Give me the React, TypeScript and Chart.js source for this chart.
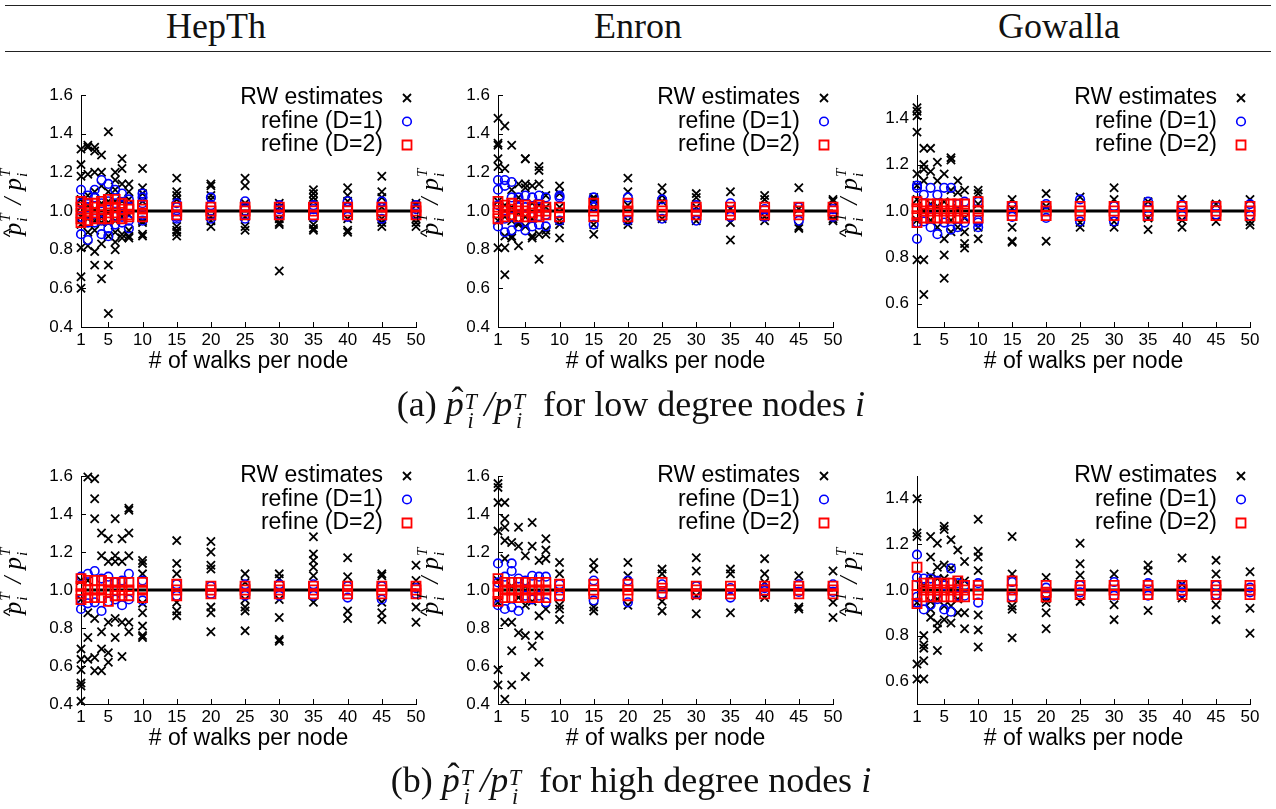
import React, { useEffect, useRef } from 'react';
import { Chart, registerables } from 'chart.js';

Chart.register(...registerables);

// ---------------- data ----------------
const walks = [1, 2, 3, 4, 5, 6, 7, 8, 10, 15, 20, 25, 30, 35, 40, 45, 50];
const xTickValues = [1, 5, 10, 15, 20, 25, 30, 35, 40, 45, 50];
const yTicksWide = [0.4, 0.6, 0.8, 1.0, 1.2, 1.4, 1.6];
const yTicksNarrow = [0.6, 0.8, 1.0, 1.2, 1.4];
const columnTitles = ['HepTh', 'Enron', 'Gowalla'];
const legendLabels = ['RW estimates', 'refine (D=1)', 'refine (D=2)'];
const xAxisTitle = '# of walks per node';
const referenceLevel = [1.0, 1.0];
const captionLow = 'for low degree nodes';
const captionHigh = 'for high degree nodes';

// (a) low degree nodes — HepTh
const hepthLowRW = [
  [1.32, 1.24, 1.18, 1.06, 1.02, 0.97, 0.93, 0.81, 0.66, 0.60],
  [1.34, 1.33, 1.19, 1.08, 1.03, 0.96, 0.89, 0.82],
  [1.33, 1.31, 1.20, 1.10, 1.01, 0.95, 0.90, 0.79, 0.72],
  [1.29, 1.20, 1.13, 1.04, 0.97, 0.94, 0.83, 0.65],
  [1.41, 1.10, 1.05, 0.99, 0.94, 0.87, 0.72, 0.47],
  [1.20, 1.16, 1.11, 1.05, 0.95, 0.89, 0.84, 0.80],
  [1.27, 1.22, 1.14, 1.05, 0.97, 0.88, 0.86],
  [1.14, 1.10, 1.06, 0.98, 0.90, 0.87, 0.86],
  [1.22, 1.12, 1.09, 1.05, 0.95, 0.94, 0.88, 0.87],
  [1.17, 1.10, 1.08, 1.06, 0.92, 0.90, 0.89, 0.87],
  [1.14, 1.13, 1.08, 1.06, 0.97, 0.95, 0.92],
  [1.17, 1.13, 1.04, 0.97, 0.92, 0.90],
  [1.04, 1.02, 0.96, 0.94, 0.93, 0.69],
  [1.11, 1.09, 1.07, 1.05, 0.93, 0.91, 0.90],
  [1.12, 1.08, 1.05, 0.96, 0.90, 0.89],
  [1.18, 1.10, 1.07, 1.02, 0.96, 0.94, 0.92],
  [1.04, 1.03, 0.96, 0.94, 0.92],
];
const hepthLowD1 = [
  [1.11, 1.04, 0.97, 0.88], [1.08, 1.02, 0.94, 0.85], [1.11, 1.07, 0.96, 0.94],
  [1.16, 1.04, 0.95, 0.88], [1.14, 1.05, 0.91, 0.87], [1.11, 1.04, 0.97, 0.93],
  [1.09, 1.03, 0.97, 0.94], [1.06, 1.02, 0.95, 0.91], [1.09, 1.07, 1.04, 0.98, 0.95],
  [1.04, 1.02, 0.97, 0.96], [1.07, 1.03, 0.98, 0.96], [1.05, 1.02, 0.98, 0.96],
  [1.03, 1.01, 0.98], [1.03, 1.01, 0.97], [1.05, 1.02, 0.97], [1.05, 1.02, 0.96],
  [1.03, 1.01, 0.98],
];
const hepthLowD2 = [
  [1.05, 1.02, 0.99, 0.96, 0.94], [1.04, 1.01, 0.98, 0.95], [1.04, 1.02, 0.99, 0.96],
  [1.05, 1.01, 0.98, 0.96], [1.06, 1.02, 0.99, 0.96], [1.06, 1.02, 0.99, 0.97],
  [1.04, 1.01, 0.98, 0.96], [1.03, 1.01, 0.98, 0.97], [1.03, 1.01, 0.99, 0.97],
  [1.02, 1.0, 0.98], [1.02, 1.0, 0.98], [1.02, 1.0, 0.98], [1.02, 1.0, 0.98],
  [1.02, 1.0, 0.98], [1.02, 1.0, 0.98], [1.02, 1.0, 0.98], [1.02, 1.0, 0.98],
];

// (a) low degree nodes — Enron
const enronLowRW = [
  [1.48, 1.35, 1.34, 1.27, 1.23, 1.05, 0.95, 0.81],
  [1.44, 1.22, 1.03, 0.97, 0.87, 0.81, 0.67],
  [1.34, 1.11, 1.02, 0.95, 0.87, 0.86],
  [1.14, 1.07, 0.99, 0.94, 0.93, 0.82],
  [1.27, 1.27, 1.14, 1.12, 0.97, 0.92],
  [1.13, 1.04, 0.96, 0.87, 0.86],
  [1.23, 1.21, 1.14, 1.03, 0.88, 0.75],
  [1.08, 1.02, 0.90, 0.88],
  [1.13, 1.09, 1.02, 0.95, 0.93, 0.86],
  [1.07, 1.06, 1.02, 0.93, 0.88],
  [1.17, 1.10, 1.03, 0.95, 0.93],
  [1.12, 1.08, 1.05, 0.96],
  [1.09, 1.07, 1.02, 0.95],
  [1.10, 1.01, 0.94, 0.85],
  [1.08, 1.06, 0.97, 0.95],
  [1.12, 1.01, 0.92, 0.91],
  [1.06, 1.05, 0.96, 0.95],
];
const enronLowD1 = [
  [1.16, 1.11, 1.03, 0.92], [1.16, 1.13, 0.96, 0.89], [1.15, 1.07, 0.97, 0.90],
  [1.07, 1.02, 0.92], [1.08, 1.02, 0.90], [1.07, 0.97, 0.92], [1.08, 1.02, 0.93],
  [1.07, 0.98, 0.92], [1.08, 1.07, 0.95], [1.07, 1.02, 0.93], [1.07, 0.95],
  [1.06, 0.96], [1.03, 0.95], [1.04, 0.97], [1.01, 0.97], [1.02, 0.95], [1.01, 0.97],
];
const enronLowD2 = [
  [1.05, 1.02, 0.99, 0.96], [1.03, 1.0, 0.97], [1.04, 1.01, 0.98], [1.03, 1.0, 0.97],
  [1.03, 1.0, 0.97], [1.02, 0.99, 0.97], [1.03, 1.0, 0.97], [1.02, 1.0, 0.98],
  [1.02, 0.99, 0.97], [1.04, 1.0, 0.97], [1.04, 1.0, 0.97], [1.03, 1.0, 0.98],
  [1.02, 1.0, 0.98], [1.02, 1.0, 0.98], [1.02, 1.0, 0.98], [1.02, 1.0, 0.98],
  [1.02, 1.0, 0.98],
];

// (a) low degree nodes — Gowalla
const gowallaLowRW = [
  [1.445, 1.43, 1.41, 1.34, 1.16, 1.11, 1.05, 0.96, 0.79],
  [1.27, 1.20, 1.18, 1.13, 1.0, 0.79, 0.64],
  [1.27, 1.17, 1.03, 0.96],
  [1.21, 1.13, 1.02, 0.93],
  [1.16, 1.04, 0.88, 0.81, 0.71],
  [1.23, 1.22, 1.09, 0.96, 0.91],
  [1.13, 1.08, 1.01, 0.93],
  [1.09, 0.97, 0.91, 0.86, 0.84],
  [1.09, 1.075, 1.03, 0.93, 0.88],
  [1.05, 1.01, 0.93, 0.87, 0.865],
  [1.075, 1.02, 0.87],
  [1.06, 0.95, 0.93],
  [1.10, 1.05, 0.955, 0.93],
  [1.04, 0.97, 0.92],
  [1.05, 0.96, 0.93],
  [1.03, 0.955],
  [1.05, 0.955, 0.94],
];
const gowallaLowD1 = [
  [1.11, 1.10, 0.95, 0.88], [1.07, 0.955], [1.10, 1.01, 0.93], [1.07, 0.90],
  [1.10, 0.95], [1.10, 0.92], [1.03, 0.93], [1.04, 0.95], [1.04, 0.96, 0.95, 0.93],
  [1.02, 0.975], [1.03, 0.97], [1.05, 0.955], [1.02, 0.955], [1.04, 0.98],
  [1.025, 0.98], [1.02, 0.985], [1.03, 0.98],
];
const gowallaLowD2 = [
  [1.04, 1.01, 0.98, 0.95], [1.03, 1.0, 0.97], [1.03, 1.0, 0.97], [1.03, 1.0, 0.97],
  [1.03, 1.0, 0.97], [1.03, 1.0, 0.97], [1.03, 1.0, 0.97], [1.03, 1.0, 0.97],
  [1.04, 1.0, 0.97], [1.02, 1.0, 0.98], [1.02, 1.0, 0.98], [1.02, 1.0, 0.98],
  [1.02, 1.0, 0.98], [1.02, 1.0, 0.98], [1.02, 1.0, 0.98], [1.02, 1.0, 0.98],
  [1.02, 1.0, 0.98],
];

// (b) high degree nodes — HepTh
const hepthHighRW = [
  [1.05, 0.95, 0.69, 0.635, 0.58, 0.51, 0.495, 0.415],
  [1.595, 1.05, 0.88, 0.75, 0.635],
  [1.585, 1.48, 1.375, 0.85, 0.645, 0.575],
  [1.30, 1.18, 0.78, 0.69, 0.575],
  [1.27, 1.15, 0.83, 0.67, 0.62],
  [1.375, 1.18, 1.15, 0.85, 0.75],
  [1.27, 1.15, 0.83, 0.65],
  [1.43, 1.42, 1.30, 1.18, 0.83, 0.78],
  [1.155, 1.14, 1.085, 0.93, 0.88, 0.81, 0.76, 0.75],
  [1.26, 1.14, 1.085, 0.935, 0.89, 0.865],
  [1.255, 1.20, 1.13, 1.11, 0.91, 0.88, 0.78],
  [1.085, 1.04, 0.95, 0.91, 0.89, 0.785],
  [1.085, 1.06, 0.95, 0.855, 0.74, 0.73],
  [1.28, 1.19, 1.155, 1.12, 1.075, 0.935],
  [1.17, 1.07, 0.89, 0.85],
  [1.085, 1.075, 0.935, 0.88, 0.845],
  [1.13, 1.05, 0.91, 0.83],
];
const hepthHighD1 = [
  [1.07, 0.95, 0.90], [1.085, 0.93], [1.10, 0.935], [1.06, 0.89], [1.07, 0.94],
  [1.04, 0.95], [1.05, 0.92], [1.085, 0.95], [1.05, 0.945], [1.03, 0.97],
  [1.02, 0.98], [1.03, 0.97], [1.03, 0.97], [1.03, 0.97], [1.02, 0.96],
  [1.02, 0.95], [1.01, 0.98],
];
const hepthHighD2 = [
  [1.06, 1.02, 0.98, 0.95], [1.05, 1.0, 0.96], [1.05, 1.0, 0.96], [1.05, 1.0, 0.96],
  [1.04, 1.0, 0.94], [1.04, 1.0, 0.97], [1.04, 1.0, 0.97], [1.04, 1.0, 0.97],
  [1.04, 1.0, 0.96], [1.03, 1.0, 0.97], [1.02, 1.0, 0.98], [1.02, 1.0, 0.98],
  [1.02, 1.0, 0.98], [1.02, 1.0, 0.98], [1.02, 1.0, 0.98], [1.02, 1.0, 0.98],
  [1.02, 1.0, 0.98],
];

// (b) high degree nodes — Enron
const enronHighRW = [
  [1.56, 1.54, 1.46, 1.31, 1.05, 0.935, 0.58, 0.50],
  [1.46, 1.375, 1.33, 1.26, 1.165, 0.83, 0.425],
  [1.25, 1.02, 0.83, 0.68, 0.50],
  [1.33, 1.23, 0.96, 0.775],
  [1.18, 1.02, 0.92, 0.76, 0.545],
  [1.355, 1.23, 0.94, 0.705],
  [1.155, 0.865, 0.76, 0.62],
  [1.27, 1.21, 1.165, 0.90],
  [1.145, 1.085, 0.92, 0.90, 0.845],
  [1.145, 1.11, 0.91, 0.89],
  [1.145, 1.075, 0.92],
  [1.11, 1.085, 0.94, 0.89],
  [1.17, 1.10, 0.97, 0.875],
  [1.11, 1.085, 0.88],
  [1.165, 1.085, 1.04, 0.96],
  [1.075, 0.91, 0.90],
  [1.10, 0.935, 0.855],
];
const enronHighD1 = [
  [1.14, 1.04, 0.92], [1.07, 0.90], [1.14, 1.10, 0.91], [1.06, 0.89], [1.05, 0.97],
  [1.075, 0.95], [1.07, 0.97], [1.07, 0.935], [1.03, 0.97], [1.05, 0.945],
  [1.05, 0.935], [1.03, 0.98], [1.02, 0.98], [1.01, 0.96], [1.01, 0.995],
  [1.03, 0.99], [1.03, 0.99],
];
const enronHighD2 = [
  [1.06, 1.02, 0.98, 0.94], [1.04, 1.0, 0.96], [1.04, 1.0, 0.96], [1.04, 1.0, 0.96],
  [1.04, 1.0, 0.96], [1.04, 1.0, 0.96], [1.04, 1.0, 0.96], [1.04, 1.0, 0.96],
  [1.03, 1.0, 0.97], [1.03, 1.0, 0.98], [1.03, 1.0, 0.97], [1.04, 1.01, 0.98],
  [1.02, 1.0, 0.98], [1.02, 1.0, 0.98], [1.02, 1.0, 0.98], [1.02, 1.0, 0.98],
  [1.02, 1.0, 0.98],
];

// (b) high degree nodes — Gowalla
const gowallaHighRW = [
  [1.40, 1.25, 1.235, 0.945, 0.675, 0.61],
  [1.02, 0.80, 0.76, 0.745, 0.69, 0.61],
  [1.235, 1.145, 1.06, 0.95, 0.915, 0.88],
  [1.205, 1.10, 1.05, 0.96, 0.855, 0.83, 0.735],
  [1.28, 1.265, 1.11, 1.05, 0.93, 0.87],
  [1.22, 1.095, 1.0, 0.93, 0.855],
  [1.175, 1.035, 0.96, 0.90],
  [1.125, 1.04, 0.90, 0.83],
  [1.31, 1.17, 1.145, 1.085, 0.89, 0.825, 0.75],
  [1.235, 1.07, 0.93, 0.915, 0.79],
  [1.055, 0.96, 0.945, 0.90, 0.83],
  [1.205, 1.115, 1.065, 0.95],
  [1.07, 0.935, 0.87],
  [1.11, 1.085, 0.91],
  [1.14, 1.025, 0.965],
  [1.13, 1.07, 0.935, 0.87],
  [1.08, 0.92, 0.81],
];
const gowallaHighD1 = [
  [1.155, 1.055, 0.97, 0.945], [1.05, 0.915], [1.05, 0.935], [1.04, 0.96],
  [1.02, 0.915], [1.095, 0.905], [1.03, 0.975], [1.02, 0.975], [1.03, 0.945],
  [1.035, 0.97], [1.01, 0.98], [1.02, 0.99], [1.035, 0.975], [1.03, 0.975],
  [1.01, 0.99], [1.02, 0.98], [1.01, 0.99],
];
const gowallaHighD2 = [
  [1.10, 1.02, 0.98, 0.94], [1.03, 1.0, 0.97], [1.03, 1.0, 0.97], [1.03, 1.0, 0.97],
  [1.03, 1.0, 0.97], [1.03, 1.0, 0.97], [1.04, 1.0, 0.97], [1.02, 1.0, 0.97],
  [1.02, 1.0, 0.98], [1.04, 1.0, 0.97], [1.02, 0.99, 0.97], [1.02, 1.0, 0.98],
  [1.02, 1.0, 0.98], [1.02, 1.0, 0.98], [1.02, 1.0, 0.98], [1.02, 1.0, 0.98],
  [1.02, 1.0, 0.98],
];

// ---------------- layout ----------------
const SANS = '"Liberation Sans", Arial, Helvetica, sans-serif';
const SERIF = '"Liberation Serif", "Times New Roman", serif';
const colGeom = [
  { left: 81, right: 416 },
  { left: 498, right: 833 },
  { left: 917, right: 1250 },
];
const rowGeom = [
  { top: 95, bottom: 327, legendDy: 3 },
  { top: 476, bottom: 704, legendDy: 0 },
];
const Y_AXIS_W = 81;
const X_AXIS_H = 58;
const PAD_TOP = 35;

type Panel = { rw: number[][]; d1: number[][]; d2: number[][]; narrow: boolean };
const panels: Panel[][] = [
  [
    { rw: hepthLowRW, d1: hepthLowD1, d2: hepthLowD2, narrow: false },
    { rw: enronLowRW, d1: enronLowD1, d2: enronLowD2, narrow: false },
    { rw: gowallaLowRW, d1: gowallaLowD1, d2: gowallaLowD2, narrow: true },
  ],
  [
    { rw: hepthHighRW, d1: hepthHighD1, d2: hepthHighD2, narrow: false },
    { rw: enronHighRW, d1: enronHighD1, d2: enronHighD2, narrow: false },
    { rw: gowallaHighRW, d1: gowallaHighD1, d2: gowallaHighD2, narrow: true },
  ],
];

function toPoints(cols: number[][]) {
  const pts: { x: number; y: number }[] = [];
  cols.forEach((vals, i) => vals.forEach((v) => pts.push({ x: walks[i], y: v })));
  return pts;
}

function drawMarker(ctx: CanvasRenderingContext2D, kind: number, x: number, y: number) {
  ctx.save();
  ctx.beginPath();
  if (kind === 0) {
    ctx.strokeStyle = '#000';
    ctx.lineWidth = 1.8;
    ctx.moveTo(x - 4, y - 4);
    ctx.lineTo(x + 4, y + 4);
    ctx.moveTo(x + 4, y - 4);
    ctx.lineTo(x - 4, y + 4);
  } else if (kind === 1) {
    ctx.strokeStyle = '#0000ff';
    ctx.lineWidth = 1.6;
    ctx.arc(x, y, 4.3, 0, Math.PI * 2);
  } else {
    ctx.strokeStyle = '#ff0000';
    ctx.lineWidth = 1.8;
    ctx.rect(x - 4.5, y - 4.5, 9, 9);
  }
  ctx.stroke();
  ctx.restore();
}

function drawYTitle(ctx: CanvasRenderingContext2D, cx: number, cy: number) {
  ctx.save();
  ctx.translate(cx, cy);
  ctx.rotate(-Math.PI / 2);
  ctx.fillStyle = '#000';
  ctx.textAlign = 'left';
  ctx.textBaseline = 'alphabetic';
  const big = `italic 25px ${SERIF}`;
  const small = `italic 15px ${SERIF}`;
  ctx.font = big;
  const wp = ctx.measureText('p').width;
  const ws = ctx.measureText('/').width;
  ctx.font = small;
  const ww = Math.max(ctx.measureText('T').width, ctx.measureText('i').width) + 3;
  const gap = 7;
  const total = wp + ww + gap + ws + gap + wp + ww;
  let x = -total / 2;
  ctx.font = `19px ${SANS}`;
  ctx.fillText('^', x - 2, -5);
  ctx.font = big;
  ctx.fillText('p', x, 0);
  x += wp;
  ctx.font = small;
  ctx.fillText('T', x + 1, -11);
  ctx.fillText('i', x + 1, 6);
  x += ww + gap;
  ctx.font = big;
  ctx.fillText('/', x, 0);
  x += ws + gap;
  ctx.fillText('p', x, 0);
  x += wp;
  ctx.font = small;
  ctx.fillText('T', x + 1, -11);
  ctx.fillText('i', x + 1, 6);
  ctx.restore();
}

function PanelChart({ row, col }: { row: number; col: number }) {
  const ref = useRef<HTMLCanvasElement | null>(null);
  const g = colGeom[col];
  const r = rowGeom[row];
  const p = panels[row][col];
  const cLeft = g.left - Y_AXIS_W;
  const cRight = Math.min(g.right + 30, 1276);
  const cTop = r.top - PAD_TOP;
  const cBottom = r.bottom + X_AXIS_H;
  const w = cRight - cLeft;
  const h = cBottom - cTop;
  const yTicks = p.narrow ? yTicksNarrow : yTicksWide;
  const yMin = p.narrow ? 0.5 : 0.4;
  const yMax = p.narrow ? 1.5 : 1.6;

  useEffect(() => {
    if (!ref.current) return;
    const decor = {
      id: 'decor',
      beforeDatasetsDraw(chart: any) {
        const { ctx, chartArea: a } = chart;
        const xs = chart.scales.x;
        const ys = chart.scales.y;
        ctx.save();
        ctx.strokeStyle = '#000';
        ctx.lineWidth = 1;
        ctx.beginPath();
        xTickValues.forEach((t) => {
          const px = Math.round(xs.getPixelForValue(t)) + 0.5;
          ctx.moveTo(px, a.bottom);
          ctx.lineTo(px, a.bottom - 5);
        });
        yTicks.forEach((t) => {
          const py = Math.round(ys.getPixelForValue(t)) + 0.5;
          ctx.moveTo(a.left, py);
          ctx.lineTo(a.left + 5, py);
        });
        ctx.stroke();
        ctx.restore();
      },
      afterDraw(chart: any) {
        const { ctx, chartArea: a } = chart;
        ctx.save();
        ctx.font = `23px ${SANS}`;
        ctx.fillStyle = '#000';
        ctx.textAlign = 'right';
        ctx.textBaseline = 'middle';
        legendLabels.forEach((lab, i) => {
          const y = a.top + r.legendDy + i * 23.5;
          ctx.fillText(lab, a.right - 33, y);
          drawMarker(ctx, i, a.right - 9, y);
        });
        ctx.restore();
        drawYTitle(ctx, 21, (a.top + a.bottom) / 2 - 10);
      },
    };
    const chart = new Chart(ref.current, {
      type: 'scatter',
      data: {
        datasets: [
          {
            label: legendLabels[2],
            data: toPoints(p.d2),
            pointStyle: 'rect',
            pointRadius: 6.4,
            borderColor: '#ff0000',
            backgroundColor: 'rgba(0,0,0,0)',
            borderWidth: 1.8,
            order: 0,
            clip: false,
          },
          {
            label: legendLabels[1],
            data: toPoints(p.d1),
            pointStyle: 'circle',
            pointRadius: 4.3,
            borderColor: '#0000ff',
            backgroundColor: 'rgba(0,0,0,0)',
            borderWidth: 1.6,
            order: 1,
            clip: false,
          },
          {
            label: legendLabels[0],
            data: toPoints(p.rw),
            pointStyle: 'crossRot',
            pointRadius: 5.8,
            borderColor: '#000',
            backgroundColor: '#000',
            borderWidth: 1.8,
            order: 2,
            clip: false,
          },
          {
            label: 'reference',
            data: [
              { x: walks[0], y: referenceLevel[0] },
              { x: walks[walks.length - 1], y: referenceLevel[1] },
            ],
            showLine: true,
            pointRadius: 0,
            borderColor: '#000',
            borderWidth: 3,
            order: 3,
          },
        ],
      } as any,
      options: {
        responsive: false,
        animation: false,
        events: [],
        layout: { padding: { top: PAD_TOP, right: cRight - g.right, left: 0, bottom: 0 } },
        plugins: { legend: { display: false }, tooltip: { enabled: false } },
        scales: {
          x: {
            type: 'linear',
            min: 1,
            max: 50,
            afterBuildTicks: (s: any) => {
              s.ticks = xTickValues.map((v) => ({ value: v }));
            },
            afterFit: (s: any) => {
              s.height = X_AXIS_H;
            },
            grid: { display: false, drawTicks: false },
            border: { display: true, color: '#000', width: 1 },
            ticks: {
              color: '#000',
              font: { family: SANS, size: 17 },
              padding: 3,
              maxRotation: 0,
              autoSkip: false,
            },
            title: {
              display: true,
              text: xAxisTitle,
              color: '#000',
              font: { family: SANS, size: 23 },
              padding: { top: 0, bottom: 10 },
            },
          },
          y: {
            type: 'linear',
            min: yMin,
            max: yMax,
            afterBuildTicks: (s: any) => {
              s.ticks = yTicks.map((v) => ({ value: v }));
            },
            afterFit: (s: any) => {
              s.width = Y_AXIS_W;
            },
            grid: { display: false, drawTicks: false },
            border: { display: true, color: '#000', width: 1 },
            ticks: {
              color: '#000',
              font: { family: SANS, size: 17 },
              padding: 8,
              callback: (v: any) => Number(v).toFixed(1),
            },
          },
        },
      } as any,
      plugins: [decor],
    });
    return () => chart.destroy();
  }, []);

  return (
    <canvas
      ref={ref}
      width={w}
      height={h}
      style={{ position: 'absolute', left: cLeft, top: cTop, width: w, height: h }}
    />
  );
}

function Scripts() {
  return (
    <span
      style={{
        display: 'inline-flex',
        flexDirection: 'column',
        fontSize: '0.62em',
        lineHeight: 0.82,
        verticalAlign: '0.3em',
        fontStyle: 'italic',
        marginLeft: '0.03em',
      }}
    >
      <span>T</span>
      <span>i</span>
    </span>
  );
}

function Caption({ tag, text, top }: { tag: string; text: string; top: number }) {
  return (
    <div
      style={{
        position: 'absolute',
        left: 0,
        width: 1262,
        top,
        textAlign: 'center',
        fontFamily: SERIF,
        fontSize: 36,
        lineHeight: '36px',
        whiteSpace: 'nowrap',
        color: '#111',
      }}
    >
      <span>({tag})&nbsp;</span>
      <span style={{ position: 'relative', fontStyle: 'italic' }}>
        p
        <span style={{ position: 'absolute', left: '0.16em', top: '-0.06em', fontStyle: 'normal' }}>ˆ</span>
      </span>
      <Scripts />
      <span style={{ fontStyle: 'italic' }}>&thinsp;/p</span>
      <Scripts />
      <span>&nbsp;&nbsp;{text}&nbsp;</span>
      <span style={{ fontStyle: 'italic' }}>i</span>
    </div>
  );
}

const headerCenters = [216, 638, 1059];

export default function App() {
  return (
    <div
      style={{
        position: 'absolute',
        left: 0,
        top: 0,
        width: 1276,
        height: 809,
        background: '#fff',
        overflow: 'hidden',
      }}
    >
      <div style={{ position: 'absolute', left: 5, top: 5, width: 1266, borderTop: '1.6px solid #222' }} />
      <div style={{ position: 'absolute', left: 5, top: 51, width: 1266, borderTop: '1.6px solid #222' }} />
      {columnTitles.map((t, i) => (
        <div
          key={t}
          style={{
            position: 'absolute',
            left: headerCenters[i] - 150,
            width: 300,
            top: 8,
            textAlign: 'center',
            fontFamily: SERIF,
            fontSize: 36,
            lineHeight: '36px',
            color: '#111',
          }}
        >
          {t}
        </div>
      ))}
      {[0, 1].map((row) => [0, 1, 2].map((col) => <PanelChart key={`${row}-${col}`} row={row} col={col} />))}
      <Caption tag="a" text={captionLow} top={386} />
      <Caption tag="b" text={captionHigh} top={762} />
    </div>
  );
}
